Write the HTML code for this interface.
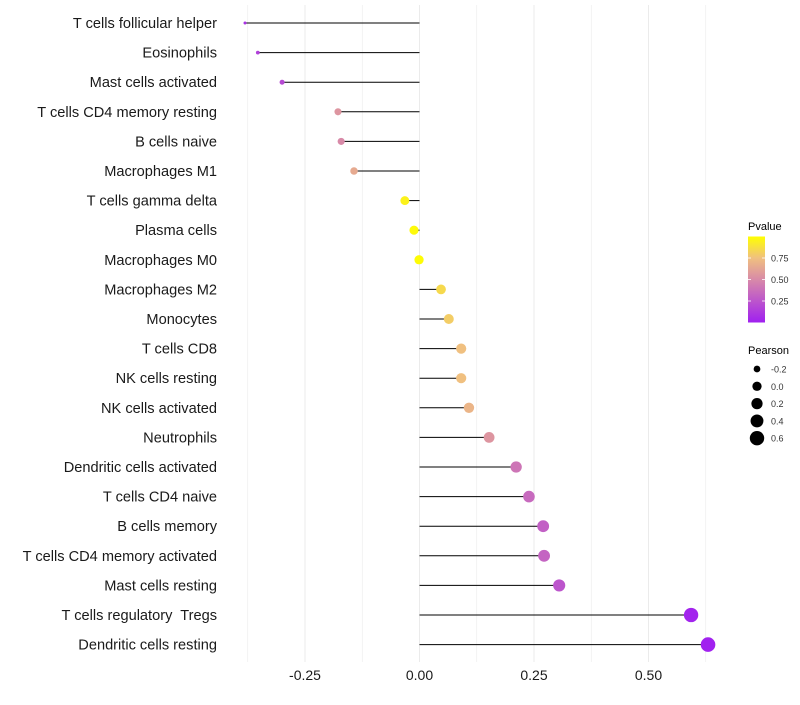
<!DOCTYPE html>
<html><head><meta charset="utf-8"><style>
body{margin:0;background:#fff;font-family:"Liberation Sans",sans-serif}
svg text{font-family:"Liberation Sans",sans-serif;white-space:pre}
</style></head><body>
<svg id="chart" width="800" height="700">
<defs><linearGradient id="pg" x1="0" y1="1" x2="0" y2="0">
<stop offset="0" stop-color="#a020f0"/><stop offset="0.5" stop-color="#d88aa8"/><stop offset="0.75" stop-color="#f0c080"/><stop offset="1" stop-color="#ffff00"/>
</linearGradient></defs>
<g id="grid"></g><g id="marks"></g><g id="labels"></g><g id="legend"></g>
</svg>
<script>
const categories=["T cells follicular helper","Eosinophils","Mast cells activated","T cells CD4 memory resting","B cells naive","Macrophages M1","T cells gamma delta","Plasma cells","Macrophages M0","Macrophages M2","Monocytes","T cells CD8","NK cells resting","NK cells activated","Neutrophils","Dendritic cells activated","T cells CD4 naive","B cells memory","T cells CD4 memory activated","Mast cells resting","T cells regulatory  Tregs","Dendritic cells resting"];
const pearson=[-0.381,-0.353,-0.300,-0.178,-0.171,-0.143,-0.032,-0.012,-0.001,0.047,0.064,0.091,0.091,0.108,0.152,0.211,0.239,0.270,0.272,0.305,0.593,0.630];
const pvalue=[0.08,0.15,0.2,0.55,0.5,0.65,0.95,0.98,0.99,0.85,0.8,0.75,0.75,0.7,0.55,0.4,0.35,0.3,0.32,0.25,0.02,0.01];
const xTicks=[-0.25,0,0.25,0.5];
const xTickLabels=["-0.25","0.00","0.25","0.50"];
const sizeBreaks=[-0.2,0,0.2,0.4,0.6];
const pBreaks=[0.25,0.5,0.75];
const NS="http://www.w3.org/2000/svg";
const x=v=>419.5+v*458;
const y=i=>23+i*29.6;
const r=p=>Math.sqrt(2.25+50.5*Math.max(0,p+0.38));
const stops=[[0,[160,32,240]],[0.5,[216,138,168]],[0.75,[240,192,128]],[1,[255,255,0]]];
function col(p){for(let k=1;k<stops.length;k++){if(p<=stops[k][0]){const a=stops[k-1],b=stops[k],t=(p-a[0])/(b[0]-a[0]);return "rgb("+a[1].map((c,j)=>Math.round(c+(b[1][j]-c)*t)).join(",")+")";}}return "rgb(255,255,0)";}
function mk(tag,at,parent,txt){const e=document.createElementNS(NS,tag);for(const k in at)e.setAttribute(k,at[k]);if(txt!==undefined)e.textContent=txt;document.getElementById(parent).appendChild(e);return e;}
for(let v=-0.375;v<=0.63;v+=0.125){const g=mk("line",{x1:x(v),x2:x(v),y1:5,y2:662,stroke:"#ebebeb","stroke-width":Math.abs(v*4-Math.round(v*4))<1e-6?1:0.6},"grid");

}
xTicks.forEach((v,i)=>{const t=mk("text",{x:x(v),y:680,"text-anchor":"middle","font-size":14,fill:"#1a1a1a"},"labels",xTickLabels[i]);

});
categories.forEach((c,i)=>{
const l=mk("line",{x1:x(0),x2:x(pearson[i]),y1:y(i),y2:y(i),stroke:"#000","stroke-width":1},"marks");


const d=mk("circle",{cx:x(pearson[i]),cy:y(i),r:r(pearson[i]),fill:col(pvalue[i])},"marks");


const t=mk("text",{x:217,y:y(i)+5,"text-anchor":"end","font-size":14.6,fill:"#1a1a1a"},"labels",c);

});
const lt=mk("text",{x:748,y:230,"font-size":11,fill:"#000"},"legend","Pvalue");


const cb=mk("rect",{x:748,y:236.5,width:17,height:86,fill:"url(#pg)"},"legend");


pBreaks.forEach(p=>{const yy=322.5-p*86;
const tk=mk("line",{x1:748,x2:751,y1:yy,y2:yy,stroke:"#fff","stroke-width":0.8},"legend");


const tk2=mk("line",{x1:762,x2:765,y1:yy,y2:yy,stroke:"#fff","stroke-width":0.8},"legend");


const t=mk("text",{x:771,y:yy+3.5,"font-size":9,fill:"#333"},"legend",p.toFixed(2));

});
const st=mk("text",{x:748,y:354,"font-size":11,fill:"#000"},"legend","Pearson");


sizeBreaks.forEach((s,i)=>{const yy=369+i*17.3;
const c=mk("circle",{cx:757,cy:yy,r:r(s),fill:"#000"},"legend");


const t=mk("text",{x:771,y:yy+3.5,"font-size":9,fill:"#333"},"legend",s.toFixed(1));

});
</script>
</body></html>
